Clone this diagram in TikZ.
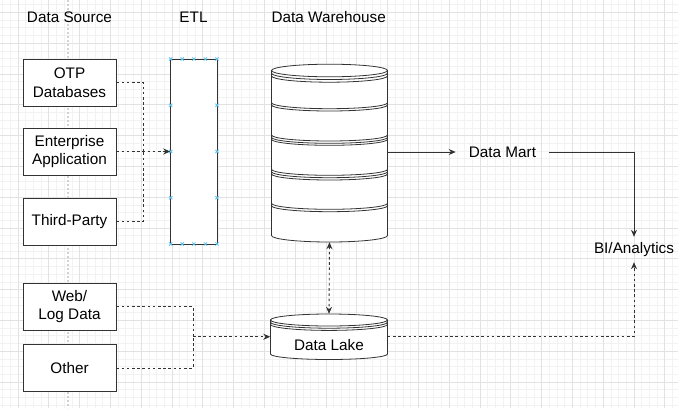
\documentclass[tikz,border=0pt]{standalone}
\usepackage{fontspec}
\setmainfont{Liberation Sans}
\usetikzlibrary{positioning,arrows.meta}
\definecolor{gridminor}{HTML}{F2F2F2}
\definecolor{gridmajor}{HTML}{E2E2E2}
\definecolor{handle}{HTML}{5CC4EE}
\definecolor{ink}{HTML}{333333}

\begin{document}
\begin{tikzpicture}[x=1pt,y=-1pt,
font=\fontsize{15.3}{18.5}\selectfont,
srcbox/.style={draw=ink, line width=0.9pt, fill=white, minimum width=93pt, minimum height=47pt, align=center, inner sep=0pt},
header/.style={inner sep=0pt},
dotline/.style={ink, line width=0.9pt, dash pattern=on 2.6pt off 2.6pt},
solidline/.style={ink, line width=0.9pt},
arrowto/.style={-{Stealth[length=7pt,width=6pt]}},
arrowboth/.style={{Stealth[length=7pt,width=6pt]}-{Stealth[length=7pt,width=6pt]}},
cyl/.style={ink, line width=0.8pt}
]
\useasboundingbox (0,0) rectangle (678,408);
\fill[white] (0,0) rectangle (678,408);

% background grid
\foreach \i in {0,...,88} \draw[gridminor, line width=0.6pt] ({2.5+7.7*\i},0) -- ({2.5+7.7*\i},408);
\foreach \j in {0,...,53} \draw[gridminor, line width=0.6pt] (0,{4.6+7.7*\j}) -- (678,{4.6+7.7*\j});
\foreach \i in {0,...,21} \draw[gridmajor, line width=0.7pt] ({17.9+30.8*\i},0) -- ({17.9+30.8*\i},408);
\foreach \j in {0,...,12} \draw[gridmajor, line width=0.7pt] (0,{12.3+30.8*\j}) -- (678,{12.3+30.8*\j});
\draw[gray!35, line width=1.2pt, dash pattern=on 2pt off 2pt] (68,0) -- (68,408);

% column headers
\node[header] (hsrc) at (69.5,17) {Data Source};
\node[header] (hetl) at (193.5,17) {ETL};
\node[header] (hdw) at (328.7,17) {Data Warehouse};

% sources
\node[srcbox] (otp) at (69.5,82.5) {OTP\\Databases};
\node[srcbox] (ent) at (69.5,151.5) {Enterprise\\Application};
\node[srcbox] (tp) at (69.5,221.5) {Third-Party};
\node[srcbox] (web) at (69.5,306.5) {Web/\\Log Data};
\node[srcbox] (oth) at (69.5,368) {Other};

% ETL
\node[draw=ink, line width=0.9pt, fill=white, minimum width=46.3pt, minimum height=185pt, inner sep=0pt] (etl) at (193.85,151.5) {};
\foreach \hx/\hy in {170.7/59,182.3/59,193.85/59,205.4/59,217/59,170.7/244,182.3/244,193.85/244,205.4/244,217/244,170.7/105.25,170.7/151.5,170.7/197.75,217/105.25,217/151.5,217/197.75}
  \draw[handle, line width=0.8pt] ({\hx-1.6},{\hy-1.6}) -- ({\hx+1.6},{\hy+1.6}) ({\hx-1.6},{\hy+1.6}) -- ({\hx+1.6},{\hy-1.6});

% data warehouse
\node[minimum width=116pt, minimum height=178pt, inner sep=0pt] (dw) at (329.5,153) {};
\draw[cyl, fill=white] (271.5,70.5) -- (271.5,235.5) arc[start angle=180, end angle=360, x radius=58pt, y radius=6.5pt]
  -- (387.5,70.5) arc[start angle=0, end angle=180, x radius=58pt, y radius=6.3pt];
\foreach \y in {70.5,73.2,75.9}
  \draw[cyl] (271.5,\y) arc[start angle=180, end angle=360, x radius=58pt, y radius=6.3pt];
\foreach \y in {102.7,105,135,137.3,139.3,169.3,171.7,174,203.3,205.7}
  \draw[cyl] (271.5,\y) arc[start angle=180, end angle=360, x radius=58pt, y radius=6pt];

% data lake
\node[minimum width=117pt, minimum height=45.5pt, inner sep=0pt] (lake) at (329,336.75) {};
\draw[cyl, fill=white] (270.5,320) -- (270.5,354) arc[start angle=180, end angle=360, x radius=58.5pt, y radius=5.5pt]
  -- (387.5,320) arc[start angle=0, end angle=180, x radius=58.5pt, y radius=6pt];
\foreach \y in {320,322.2,324.4}
  \draw[cyl] (270.5,\y) arc[start angle=180, end angle=360, x radius=58.5pt, y radius=6pt];
\node (laketxt) at (329,345) {Data Lake};

% outputs
\node[inner xsep=13pt] (dm) at (502.5,152) {Data Mart};
\node[minimum height=25pt, inner sep=0pt] (bi) at (634,249.5) {BI/Analytics};

% connectors
\coordinate (j1) at (143.5,151.5);
\coordinate (j2) at (193,336.75);
\draw[dotline] (otp.east) -| (j1);
\draw[dotline] (tp.east) -| (j1);
\draw[dotline, arrowto] (ent.east) -- (etl.west);
\draw[dotline] (web.east) -| (j2);
\draw[dotline] (oth.east) -| (j2);
\draw[dotline, arrowto] (j2) -- (lake.west);
\draw[dotline, arrowboth] (dw.south) -- (lake.north);
\draw[solidline, arrowto] (dw.east |- dm.west) -- (dm.west);
\draw[solidline, arrowto] (dm.east) -| (bi.north);
\draw[dotline, arrowto] (lake.east) -| (bi.south);
\end{tikzpicture}
\end{document}
